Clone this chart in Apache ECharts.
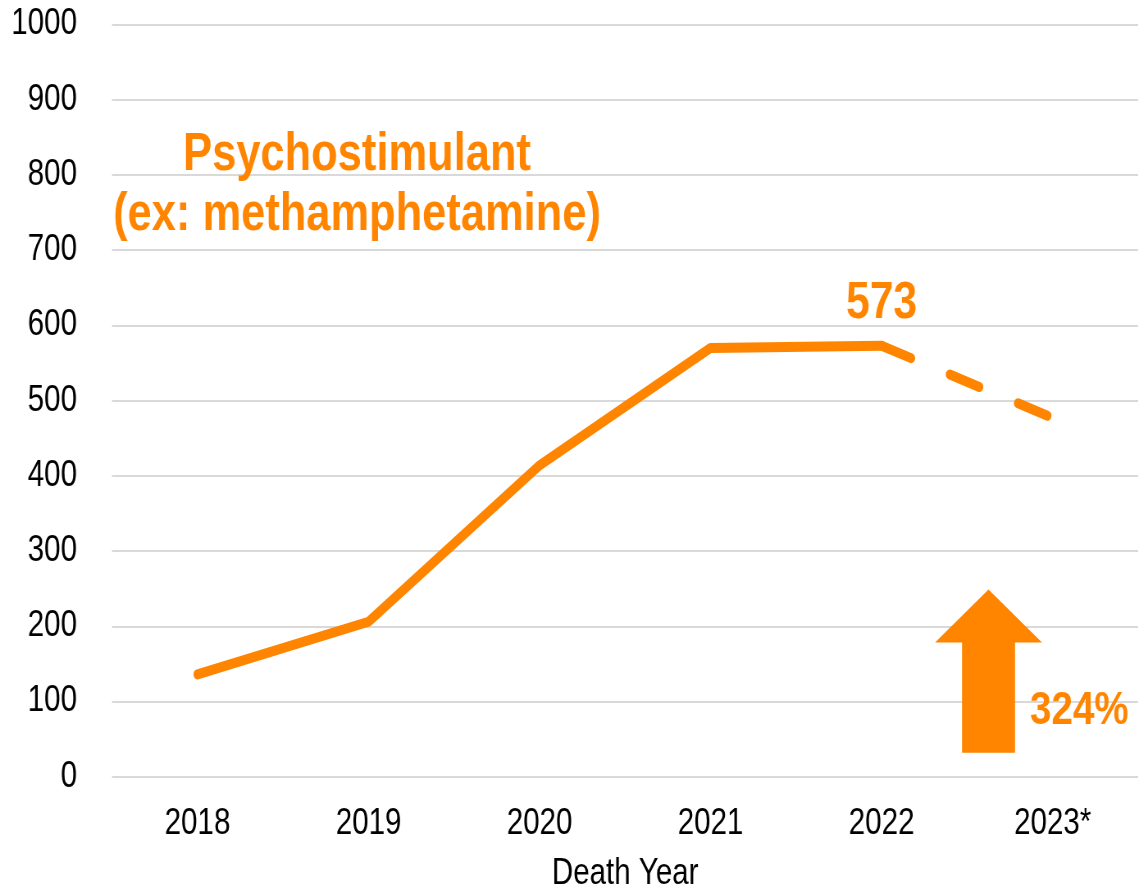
<!DOCTYPE html>
<html>
<head>
<meta charset="utf-8">
<script src="https://cdn.jsdelivr.net/npm/echarts@6/dist/echarts.min.js"></script>
<style>
html,body{margin:0;padding:0;background:#fff;overflow:hidden;width:1138px;height:889px;}
#c{width:1388px;height:889px;transform:scaleX(0.82);transform-origin:0 0;}
</style>
</head>
<body>
<div id="c"></div>
<script>
const categories = ['2018', '2019', '2020', '2021', '2022', '2023*'];
const actualValues = [136, 206, 414, 570, 573, null];
const projectedValues = [null, null, null, null, 573, 477];
const yTicks = {min: 0, max: 1000, interval: 100};
const titleLines = ['Psychostimulant', '(ex: methamphetamine)'];
const peakLabel = '573';
const changeLabel = '324%';
const arrowRange = [32, 249]; // value-axis units, placed between 2022 and 2023*

// The page is drawn 1/S wider and squeezed horizontally by S (narrow-font look).
const S = 0.82;
const px = v => v / S;
const ORANGE = '#FF8500';
const FONT = "'Liberation Sans', Arial, sans-serif";

const chart = echarts.init(document.getElementById('c'));
chart.setOption({
  animation: false,
  backgroundColor: '#fff',
  grid: {left: px(112), right: 0, top: 24.5, bottom: 112.3, containLabel: false, outerBoundsMode: 'none'},
  xAxis: {
    type: 'category',
    data: categories,
    boundaryGap: true,
    axisLine: {show: false},
    axisTick: {show: false},
    axisLabel: {color: '#000', fontSize: 36, fontFamily: FONT, margin: 29},
    name: 'Death Year',
    nameLocation: 'middle',
    nameGap: 79,
    nameTextStyle: {color: '#000', fontSize: 36, fontFamily: FONT}
  },
  yAxis: {
    type: 'value',
    min: yTicks.min, max: yTicks.max, interval: yTicks.interval,
    axisLine: {show: false},
    axisTick: {show: false},
    axisLabel: {color: '#000', fontSize: 36, fontFamily: FONT, margin: px(35), formatter: v => String(v)},
    splitLine: {lineStyle: {color: '#d9d9d9', width: 2}}
  },
  series: [
    {
      type: 'line',
      data: actualValues.map((v, i) => i === 4 ? {
        value: v,
        label: {show: true, position: 'top', distance: 15, formatter: peakLabel,
          color: ORANGE, fontSize: 52, fontWeight: 'bold', fontFamily: FONT}
      } : v),
      symbol: 'circle',
      symbolSize: 2,
      showSymbol: true,
      itemStyle: {color: ORANGE},
      lineStyle: {color: ORANGE, width: 10, cap: 'round', join: 'round'},
      z: 3
    },
    {
      type: 'line',
      data: projectedValues,
      symbol: 'none',
      lineStyle: {color: ORANGE, width: 10, type: [38, 50], cap: 'round'},
      z: 3
    }
  ]
});

function drawOverlay() {
  const p22 = chart.convertToPixel({xAxisIndex: 0}, categories[4]);
  const p23 = chart.convertToPixel({xAxisIndex: 0}, categories[5]);
  const cx = p22 + (p23 - p22) * 0.625;
  const yTop = chart.convertToPixel({yAxisIndex: 0}, arrowRange[1]);
  const yBot = chart.convertToPixel({yAxisIndex: 0}, arrowRange[0]);
  const headH = 53, headW = px(53.5), shaftW = px(26.5);
  const yBase = yTop + headH;
  chart.setOption({
    graphic: [
      {
        type: 'polygon',
        shape: {points: [
          [cx, yTop], [cx + headW, yBase], [cx + shaftW, yBase], [cx + shaftW, yBot],
          [cx - shaftW, yBot], [cx - shaftW, yBase], [cx - headW, yBase]
        ]},
        style: {fill: ORANGE},
        z: 10
      },
      {
        type: 'text', x: px(1030), y: 711,
        style: {text: changeLabel, fill: ORANGE, font: 'bold 47px ' + FONT,
          align: 'left', verticalAlign: 'middle'},
        z: 10
      },
      {
        type: 'text', x: px(357), y: 155,
        style: {text: titleLines[0], fill: ORANGE, font: 'bold 53px ' + FONT,
          align: 'center', verticalAlign: 'middle'},
        z: 10
      },
      {
        type: 'text', x: px(357), y: 215,
        style: {text: titleLines[1], fill: ORANGE, font: 'bold 53px ' + FONT,
          align: 'center', verticalAlign: 'middle'},
        z: 10
      }
    ]
  });
}
drawOverlay();
</script>
</body>
</html>
